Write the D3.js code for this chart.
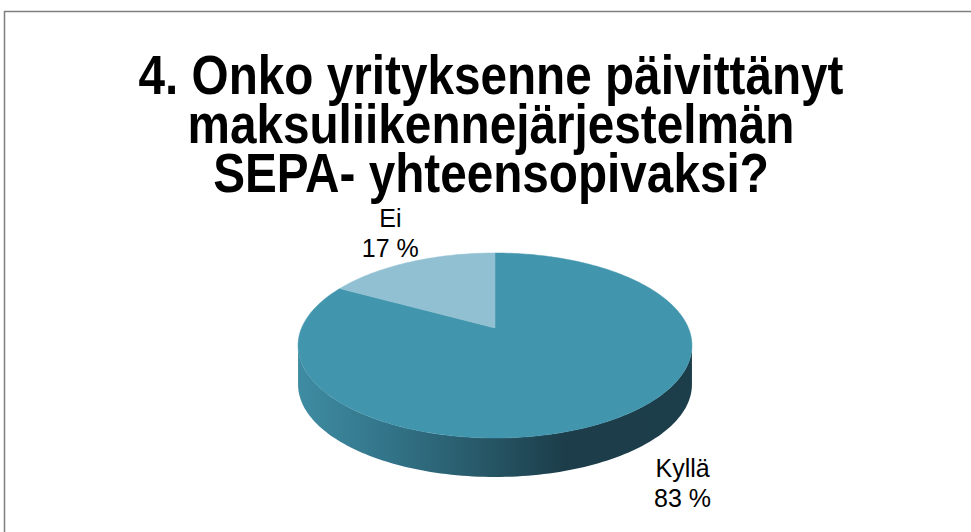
<!DOCTYPE html>
<html>
<head>
<meta charset="utf-8">
<script src="https://cdn.jsdelivr.net/npm/d3@7"></script>
<style>
  html, body { margin: 0; padding: 0; background: #ffffff; }
  svg { display: block; }
</style>
</head>
<body>
<svg id="chart" width="971" height="532"></svg>
<script>
// ---- data ----
const categories = ["Kyllä", "Ei"];
const values = [83, 17];
const valueLabels = ["83 %", "17 %"];
const titleLines = [
  "4. Onko yrityksenne päivittänyt",
  "maksuliikennejärjestelmän",
  "SEPA- yhteensopivaksi?"
];

// ---- layout ----
const W = 971, H = 532;
const cx = 495, cy = 328;      // projected pie centre
const A = 193.4, B = 89.2;     // half-axes of the projected disc
const k = 0.189;               // perspective factor
const depth = 39;              // thickness of the disc
const topColors = ["#4195ad", "#90c0d1"];

const svg = d3.select("#chart");

// frame
svg.append("rect")
  .attr("x", 4.5).attr("y", 11.5)
  .attr("width", W + 10).attr("height", H + 10)
  .attr("fill", "#ffffff")
  .attr("stroke", "#7f7f7f").attr("stroke-width", 1.5);

// title (condensed bold sans), one text element with a tspan per line
const titleBaselines = [94, 143, 192];
const title = svg.append("text")
  .attr("text-anchor", "middle")
  .attr("font-family", "'Liberation Sans', Arial, sans-serif")
  .attr("font-weight", "bold")
  .attr("font-size", 55)
  .attr("fill", "#000");
const tsp = title.selectAll("tspan").data(titleLines).join("tspan")
  .attr("x", 0)
  .attr("y", (d, i) => titleBaselines[i])
  .text(d => d);
const w0 = tsp.node().getComputedTextLength();
const sx = 705 / w0;
title.attr("transform", `translate(491,0) scale(${sx},1)`);

// projection of a point on the unit disc (angle a, radius r; a=0 at back, clockwise)
function proj(a, r = 1, dy = 0) {
  const u = r * Math.sin(a), v = -r * Math.cos(a);
  const s = 1 - k * v;
  return [cx + A * u / s, cy + B * v / s + dy];
}

const pie = d3.pie().sort(null).value(d => d.value);
const arcs = pie(categories.map((c, i) => ({ name: c, value: values[i], label: valueLabels[i], color: topColors[i] })));

const line = d3.line();

// side wall (front, visible part) with gradient
const aR = Math.acos(-k);               // right silhouette
const aL = 2 * Math.PI - Math.acos(-k); // left silhouette
const N = 120;
const frontAngles = d3.range(N + 1).map(i => aR + (aL - aR) * i / N);
const sidePts = frontAngles.map(a => proj(a, 1, 0))
  .concat(frontAngles.slice().reverse().map(a => proj(a, 1, depth)));

const defs = svg.append("defs");
const grad = defs.append("linearGradient")
  .attr("id", "sideGrad")
  .attr("gradientUnits", "userSpaceOnUse")
  .attr("x1", cx - A * 1.02).attr("x2", cx + A * 1.02)
  .attr("y1", 0).attr("y2", 0);
[[0, "#3f8ca2"], [0.22, "#33758a"], [0.45, "#285a6a"], [0.68, "#1c3d49"], [1, "#1c3e4a"]]
  .forEach(([o, c]) => grad.append("stop").attr("offset", o).attr("stop-color", c));

svg.append("path")
  .attr("d", line(sidePts) + "Z")
  .attr("fill", "url(#sideGrad)");

// top faces
arcs.forEach(d => {
  const n = Math.max(2, Math.round((d.endAngle - d.startAngle) / (Math.PI / 180)));
  const pts = [[cx, cy]].concat(d3.range(n + 1).map(i => proj(d.startAngle + (d.endAngle - d.startAngle) * i / n)));
  svg.append("path")
    .attr("d", line(pts) + "Z")
    .attr("fill", d.data.color)
    .attr("stroke", d.data.color).attr("stroke-width", 0.5);
});

// labels
const labelOffsets = { "Kyllä": [70, 72], "Ei": [-20, -20] };
arcs.forEach(d => {
  const mid = (d.startAngle + d.endAngle) / 2;
  const p = proj(mid);
  const off = labelOffsets[d.data.name];
  const g = svg.append("text")
    .attr("text-anchor", "middle")
    .attr("font-family", "'Liberation Sans', Arial, sans-serif")
    .attr("font-size", 25)
    .attr("fill", "#000");
  g.append("tspan").attr("x", p[0] + off[0]).attr("y", p[1] + off[1] - 15).text(d.data.name);
  g.append("tspan").attr("x", p[0] + off[0]).attr("y", p[1] + off[1] + 15).text(d.data.label);
});
</script>
</body>
</html>
